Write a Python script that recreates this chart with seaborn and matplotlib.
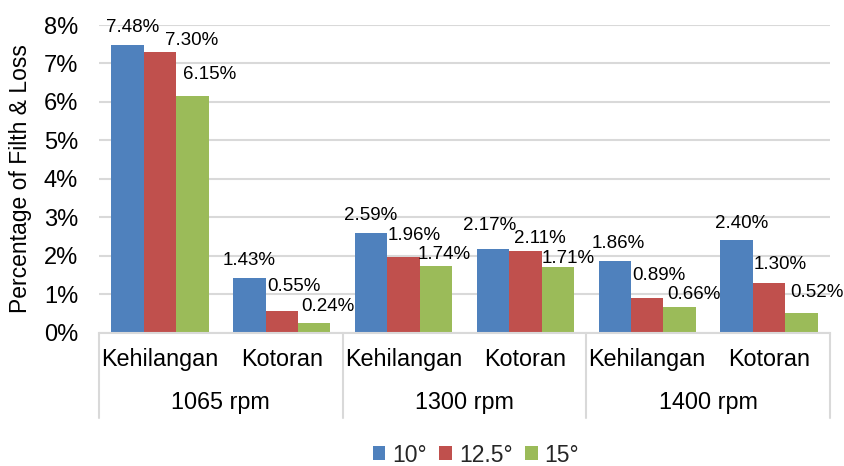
import matplotlib
matplotlib.use("Agg")
import matplotlib.pyplot as plt
from matplotlib.lines import Line2D
import numpy as np
import pandas as pd
import seaborn as sns

# ---- data -------------------------------------------------------------
speeds = ["1065 rpm", "1300 rpm", "1400 rpm"]
components = ["Kehilangan", "Kotoran"]
angles = ["10°", "12.5°", "15°"]

pct_10 = [7.48, 1.43, 2.59, 2.17, 1.86, 2.40]
pct_12_5 = [7.30, 0.55, 1.96, 2.11, 0.89, 1.30]
pct_15 = [6.15, 0.24, 1.74, 1.71, 0.66, 0.52]

y_ticks = [0, 1, 2, 3, 4, 5, 6, 7, 8]

# ---- styling ----------------------------------------------------------
colors = ["#4F81BD", "#C0504D", "#9BBB59"]
grid_col = "#D9D9D9"

# label nudges (pixels: right, up from bar top) so the value texts do not collide
label_nudge = {
    "10°":   [(5, 17), (0, 17), (0, 17), (-3, 24), (3, 18), (5, 17)],
    "12.5°": [(32, 11), (12, 25), (11, 22), (14, 13), (12, 23), (11, 18)],
    "15°":   [(17, 22), (14, 17), (8, 11), (10, 8), (14, 13), (15, 20)],
}

sns.set_theme(style="white")
plt.rcParams["font.family"] = ["Liberation Sans", "DejaVu Sans"]

slots = [f"{s}|{c}" for s in speeds for c in components]
series = {"10°": pct_10, "12.5°": pct_12_5, "15°": pct_15}
df = pd.DataFrame(
    [(slot, ang, v) for ang in angles for slot, v in zip(slots, series[ang])],
    columns=["slot", "angle", "value"],
)

fig = plt.figure(figsize=(8.45, 4.66), dpi=100)
ax = fig.add_axes([99 / 845, 1 - 332.5 / 466, 731 / 845, 307.5 / 466])

sns.barplot(
    data=df, x="slot", y="value", hue="angle", order=slots, hue_order=angles,
    palette=colors, width=0.8, saturation=1, ax=ax, legend=True,
    edgecolor="none", linewidth=0,
)

ax.set_xlim(-0.5, len(slots) - 0.5)
ax.set_ylim(0, 8)
ax.set_yticks(y_ticks)
ax.set_yticklabels([f"{t}%" for t in y_ticks], fontsize=17, color="#000000")
ax.tick_params(axis="y", length=0, pad=15)
ax.tick_params(axis="x", length=0, labelbottom=False)
ax.set_xlabel("")
ax.set_ylabel("Percentage of Filth & Loss", fontsize=16.5, color="#000000")
ax.yaxis.set_label_coords(-0.092, 0.5)

ax.grid(axis="y", color=grid_col, linewidth=1.5)
ax.set_axisbelow(True)
for side in ["top", "right", "left"]:
    ax.spines[side].set_visible(False)
ax.spines["bottom"].set_color(grid_col)
ax.spines["bottom"].set_linewidth(1.5)

# value labels
for cont, ang in zip(ax.containers, angles):
    for bar, v, (dx, dy) in zip(cont, series[ang], label_nudge[ang]):
        ax.annotate(
            f"{v:.2f}%", xy=(bar.get_x() + bar.get_width() / 2, v),
            xytext=(dx, dy), textcoords="offset pixels",
            ha="center", va="center", fontsize=13.5, color="#000000",
        )

# two-level category axis
trans = ax.get_xaxis_transform()
for i, slot in enumerate(slots):
    ax.text(i, -0.088, slot.split("|")[1], transform=trans, ha="center",
            va="center", fontsize=16.8, color="#000000")
for g, spd in enumerate(speeds):
    ax.text(2 * g + 0.5, -0.229, spd, transform=trans, ha="center",
            va="center", fontsize=16.8, color="#000000")
for xb in np.arange(-0.5, len(slots), 2):
    ax.add_line(Line2D([xb, xb], [0, -0.278], transform=trans, color=grid_col,
                       linewidth=1.5, clip_on=False))

# legend below the axis
handles, labels = ax.get_legend_handles_labels()
ax.get_legend().remove()
fig.legend(
    handles, labels, loc="center", bbox_to_anchor=(476 / 845, 1 - 455 / 466),
    ncol=3, frameon=False, fontsize=16.5, handlelength=0.55, handleheight=0.55,
    handletextpad=0.3, columnspacing=0.55, borderaxespad=0, borderpad=0,
)

fig.savefig("out.png", dpi=100)
